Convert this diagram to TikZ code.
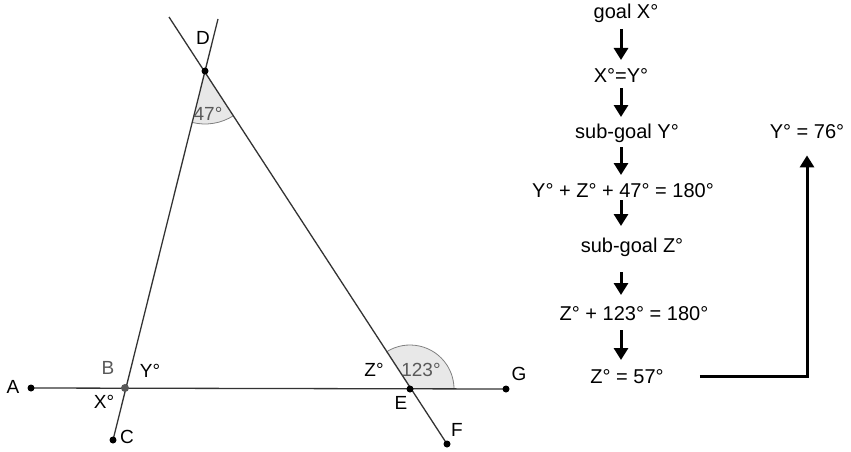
\documentclass[tikz,border=0pt]{standalone}
\usepackage{fontspec}
\setmainfont{Liberation Sans}
\usetikzlibrary{arrows.meta}
\begin{document}
\begin{tikzpicture}[x=1pt,y=-1pt,
  geo/.style={line width=1.3pt, draw=black!80},
  dot/.style={circle, fill=black, inner sep=0pt, minimum size=7pt},
  gdot/.style={circle, fill=black!65, inner sep=0pt, minimum size=8pt},
  lbl/.style={font=\fontsize{19}{21}\selectfont, inner sep=0pt},
  glbl/.style={lbl, text=black!65},
  sectorfill/.style={fill=black!9},
  sectorarc/.style={draw=black!50, line width=0.8pt},
  ftxt/.style={font=\fontsize{20}{22}\selectfont, inner sep=0pt, anchor=base},
  farr/.style={line width=3pt, -{Triangle[length=12pt,width=14pt]}},
]
\useasboundingbox (0,0) rectangle (851,452);
% geometry points
\coordinate (A) at (31,388);
\coordinate (B) at (125,388);
\coordinate (C) at (113,440);
\coordinate (D) at (205,71);
\coordinate (E) at (410,389);
\coordinate (F) at (447,444);
\coordinate (G) at (506,389);
\coordinate (Dtop1) at (218,19);
\coordinate (Dtop2) at (169,17);
% angle sectors
\fill[sectorfill] (D) -- ++(57.2:53) arc[start angle=57.2,end angle=104.2,radius=53] -- cycle;
\draw[sectorarc] (D) ++(57.2:53) arc[start angle=57.2,end angle=104.2,radius=53];
\fill[sectorfill] (E) -- ++(-122.8:44) arc[start angle=-122.8,end angle=0,radius=44] -- cycle;
\draw[sectorarc] (E) ++(-122.8:44) arc[start angle=-122.8,end angle=0,radius=44];
% lines
\draw[geo] (C) -- (Dtop1);
\draw[geo] (Dtop2) -- (F);
\draw[geo] (A) -- (G);
% dots
\foreach \p in {A,C,D,E,F,G} \node[dot] (dot\p) at (\p) {};
\node[gdot] (dotB) at (B) {};
% labels
\node[lbl] (lD) at (203,38) {D};
\node[lbl] (lA) at (13,387) {A};
\node[glbl] (lB) at (108,368) {B};
\node[lbl] (lY) at (150,371) {Y°};
\node[lbl] (lX) at (104,402) {X°};
\node[lbl] (lC) at (127,437) {C};
\node[lbl] (lZ) at (374,370) {Z°};
\node[glbl] (l123) at (421,370) {123°};
\node[lbl] (lE) at (401,403) {E};
\node[lbl] (lG) at (519,374) {G};
\node[lbl] (lF) at (457,430) {F};
\node[glbl] (l47) at (208,114) {47°};
% flowchart
\coordinate (ax) at (621,0);
\node[ftxt] (n1) at (626,19) {goal X°};
\node[ftxt] (n2) at (621,82) {X°=Y°};
\node[ftxt] (n3) at (627,138) {sub-goal Y°};
\node[ftxt] (n4) at (623,197) {Y° + Z° + 47° = 180°};
\node[ftxt] (n5) at (632,252) {sub-goal Z°};
\node[ftxt] (n6) at (634,320) {Z° + 123° = 180°};
\node[ftxt] (n7) at (627,383) {Z° = 57°};
\node[ftxt] (ny) at (807,138) {Y° = 76°};
\draw[farr, shorten <=10pt, shorten >=22pt] (n1.base -| ax) -- (n2.base -| ax);
\draw[farr, shorten <=6pt, shorten >=21pt] (n2.base -| ax) -- (n3.base -| ax);
\draw[farr, shorten <=9pt, shorten >=22pt] (n3.base -| ax) -- (n4.base -| ax);
\draw[farr, shorten <=3pt, shorten >=26pt] (n4.base -| ax) -- (n5.base -| ax);
\draw[farr, shorten <=20pt, shorten >=25pt] (n5.base -| ax) -- (n6.base -| ax);
\draw[farr, shorten <=10pt, shorten >=23pt] (n6.base -| ax) -- (n7.base -| ax);
\draw[farr, shorten <=36pt, shorten >=17pt] (n7.east) -| (ny.south);
\end{tikzpicture}
\end{document}
